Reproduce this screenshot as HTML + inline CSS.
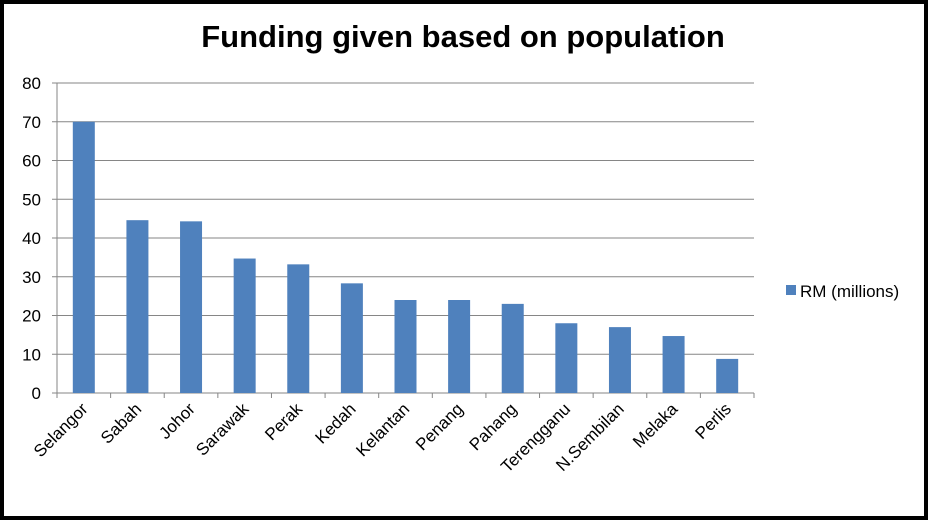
<!DOCTYPE html>
<html><head><meta charset="utf-8"><style>
html,body{margin:0;padding:0;background:#000;}
svg{display:block;}
text{font-family:"Liberation Sans",sans-serif;}
</style></head><body>
<svg width="928" height="520">
<rect x="4" y="4" width="920" height="512" fill="#fff"/>
<text x="463" y="47" text-anchor="middle" font-size="31" font-weight="bold" fill="#000">Funding given based on population</text>
<g id="grid"></g><g id="bars"></g><g id="axes"></g>
<rect x="786" y="285" width="10" height="10" fill="#4f81bd"/>
<text x="800" y="297" font-size="17" fill="#000">RM (millions)</text>
</svg>
<script>
const categories=["Selangor","Sabah","Johor","Sarawak","Perak","Kedah","Kelantan","Penang","Pahang","Terengganu","N.Sembilan","Melaka","Perlis"];
const values=[70,44.6,44.3,34.7,33.2,28.3,24,24,23,18,17,14.7,8.8];
const yTicks=[0,10,20,30,40,50,60,70,80];
const NS="http://www.w3.org/2000/svg";
const X0=57,X1=754,Y0=393,Y1=83,YMAX=80;
const bw=(X1-X0)/categories.length;
function y(v){return Y0-(v/YMAX)*(Y0-Y1);}
function xc(i){return X0+bw*(i+0.5);}
function mk(tag,attrs,parent){const e=document.createElementNS(NS,tag);for(const k in attrs)e.setAttribute(k,attrs[k]);parent.appendChild(e);return e;}
const grid=document.getElementById('grid'),bars=document.getElementById('bars'),axes=document.getElementById('axes');
yTicks.forEach(t=>{
  const l=mk('line',{x1:52,x2:X1,y1:y(t),y2:y(t),stroke:'#868686','stroke-width':1},grid);
  
  
  const tx=mk('text',{x:41,y:y(t)+6,'text-anchor':'end','font-size':17,fill:'#000'},axes);
  tx.textContent=t;
  
  
});
values.forEach((v,i)=>{
  const r=mk('rect',{x:xc(i)-11,y:y(v),width:22,height:Y0-y(v),fill:'#4f81bd'},bars);
  
  
});
const ax=mk('line',{x1:X0,x2:X0,y1:Y1,y2:Y0+5,stroke:'#868686'},axes);


for(let i=0;i<=categories.length;i++){
  const tk=mk('line',{x1:X0+bw*i,x2:X0+bw*i,y1:Y0,y2:Y0+5,stroke:'#868686'},axes);
  
  
}
categories.forEach((c,i)=>{
  const cx=xc(i)+5,cy=Y0+17;
  const t=mk('text',{x:cx,y:cy,'text-anchor':'end','font-size':17,fill:'#000',transform:`rotate(-45 ${cx} ${cy})`},axes);
  t.textContent=c;
  
  
});
</script>
</body></html>
